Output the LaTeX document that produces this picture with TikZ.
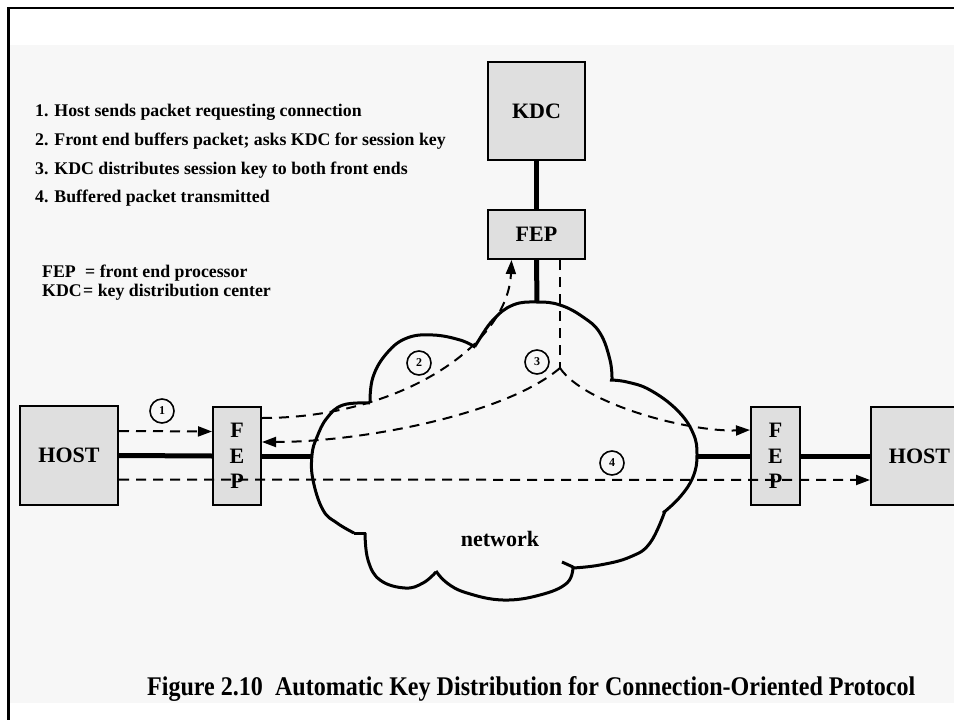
\documentclass[tikz,border=0pt]{standalone}
\usepackage{fontspec}
\setmainfont{Liberation Serif}
\usepackage{graphicx}
\usetikzlibrary{arrows.meta}
\definecolor{bggray}{HTML}{F7F7F7}
\definecolor{boxgray}{HTML}{DFDFDF}
\begin{document}
\begin{tikzpicture}[x=1pt,y=-1pt,
  box/.style={draw,line width=2pt,fill=boxgray,inner sep=0pt,font=\fontsize{22}{26}\selectfont\bfseries},
  boxlbl/.style={inner sep=0pt,anchor=base,font=\fontsize{22}{26}\selectfont\bfseries},
  heavy/.style={line width=5pt},
  dashline/.style={line width=2pt,dash pattern=on 10pt off 7pt},
  tipped/.style={-{Triangle[length=14pt,width=10pt]}},
  num/.style={circle,draw,line width=1.6pt,minimum size=24pt,inner sep=0pt,fill=bggray,font=\fontsize{12}{12}\selectfont\bfseries},
  txt/.style={inner sep=0pt,anchor=base west,font=\fontsize{17.8}{20}\selectfont\bfseries},
  cloudline/.style={line width=3pt,line join=round}
]
\useasboundingbox (0,0) rectangle (954,720);
\clip (0,0) rectangle (954,720);
\fill[white] (0,0) rectangle (954,720);
\fill[bggray] (10,45) rectangle (954,703);
\draw[line width=2.6pt] (8.7,720) -- (8.7,8) -- (954,8);

% steps
\node[txt] (s1) at (35,116.7) {1. Host sends packet requesting connection};
\node[txt] (s2) at (35,145.7) {2. Front end buffers packet; asks KDC for session key};
\node[txt] (s3) at (35,174.3) {3. KDC distributes session key to both front ends};
\node[txt] (s4) at (35,202.7) {4. Buffered packet transmitted};
% legend
\node[txt] (l1a) at (42,277.3) {FEP};
\node[txt] (l1b) at (85,277.3) {= front end processor};
\node[txt] (l2a) at (42,296.7) {KDC};
\node[txt] (l2b) at (83,296.7) {= key distribution center};

% cloud
\begin{scope}[cloudline]
\draw plot[smooth,tension=0.7] coordinates {(370,403) (373,377) (387,353) (407,338) (433,335) (460,340) (475,347)};
\draw plot[smooth,tension=0.7] coordinates {(475,347) (477,343) (493,320) (513,305) (537,302) (560,305) (583,317) (600,333) (610,360) (612,380)};
\draw plot[smooth,tension=0.7] coordinates {(610,380) (627,382) (650,390) (677,410) (693,433) (697,455) (693,477) (680,497) (663,513)};
\draw plot[smooth,tension=0.7] coordinates {(665,511) (650,543) (630,557) (600,565) (573,568)};
\draw (562,562) -- (573,567);
\draw plot[smooth,tension=0.7] coordinates {(573,566) (567,583) (540,595) (503,600) (467,593) (447,583) (436,571)};
\draw plot[smooth,tension=0.7] coordinates {(436,572) (423,583) (405,588) (380,580) (368,560) (365,533)};
\draw (354,533) -- (366,533);
\draw plot[smooth,tension=0.7] coordinates {(354,533) (337,523) (323,510) (313,480) (312,455) (317,437) (327,418) (343,405) (370,403)};
\end{scope}
\coordinate (cloudL) at (312,456);
\coordinate (cloudR) at (697,456);
\coordinate (cloudT) at (537,302);
\coordinate (split) at (560,368);

% boxes
\node[box,minimum width=98pt,minimum height=99pt] (lhost) at (69,455.5) {HOST};
\node[box,minimum width=48pt,minimum height=98pt] (lfep) at (237,456) {};
\node[box,minimum width=49pt,minimum height=98pt] (rfep) at (775.5,456) {};
\node[box,minimum width=97pt,minimum height=98pt] (rhost) at (919.5,456) {HOST};
\node[box,minimum width=97pt,minimum height=98pt] (kdc) at (536.5,111) {KDC};
\node[box,minimum width=97pt,minimum height=49pt] (tfep) at (536.5,234.5) {FEP};
\node[boxlbl] (lf) at (237,437) {F};
\node[boxlbl] (le) at (237,463) {E};
\node[boxlbl] (lp) at (237,488) {P};
\node[boxlbl] (rf) at (775.5,437) {F};
\node[boxlbl] (re) at (775.5,463) {E};
\node[boxlbl] (rp) at (775.5,488) {P};
\node[boxlbl] (net) at (500,546.7) {network};

% heavy links
\draw[heavy] (kdc.south) -- (tfep.north);
\draw[heavy] (tfep.south) -- (cloudT);
\draw[heavy] (lhost.east) -- (lfep.west);
\draw[heavy] (lfep.east) -- (cloudL);
\draw[heavy] (cloudR) -- (rfep.west);
\draw[heavy] (rfep.east) -- (rhost.east -| rhost.west);

% dashed message paths
\draw[dashline,tipped] ([yshift=24.5pt]lhost.east) -- ([yshift=24.5pt]lfep.west);
\draw[dashline,tipped] ([yshift=38pt]lfep.east) .. controls (400,418) and (508,345) .. ([xshift=-25pt]tfep.south);
\draw[dashline] ([xshift=23.5pt]tfep.south) -- (split);
\draw[dashline,tipped] (split) .. controls (505,415) and (360,442) .. ([yshift=14pt]lfep.east);
\draw[dashline,tipped] (split) .. controls (585,405) and (690,432) .. ([yshift=26pt]rfep.west);
\draw[dashline,tipped] ([yshift=-24pt]lhost.east) -- ([yshift=-24pt]rhost.west);

% step numbers
\node[num] (n1) at (162,411) {1};
\node[num] (n2) at (419,363) {2};
\node[num] (n3) at (537,362) {3};
\node[num] (n4) at (612,463) {4};

% caption
\node[inner sep=0pt,anchor=base west] (cap) at (147,695) {\resizebox{768pt}{19pt}{\bfseries Figure 2.10\ \ Automatic Key Distribution for Connection-Oriented Protocol}};
\end{tikzpicture}
\end{document}
